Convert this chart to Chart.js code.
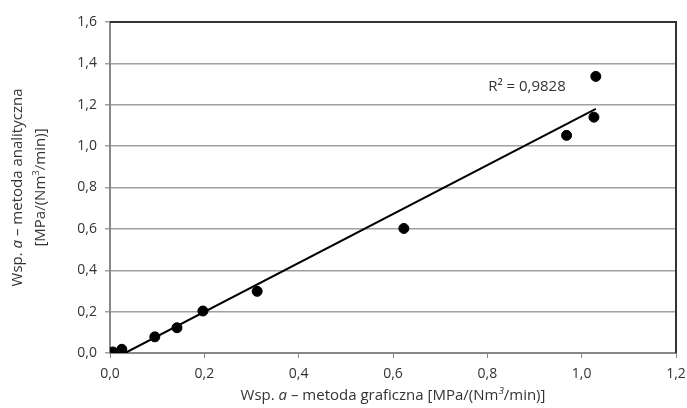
<!DOCTYPE html>
<html>
<head>
<meta charset="utf-8">
<script src="https://cdn.jsdelivr.net/npm/chart.js@4"></script>
<style>
  html, body { margin: 0; padding: 0; background: #fff; }
  #wrap { width: 687px; height: 408px; }
</style>
</head>
<body>
<div id="wrap"><canvas id="chart" width="687" height="408"></canvas></div>
<script>
// dane
var xGraficzna = [0.006, 0.025, 0.095, 0.142, 0.197, 0.312, 0.623, 0.968, 1.026, 1.030];
var yAnalityczna = [0.005, 0.018, 0.078, 0.122, 0.203, 0.298, 0.602, 1.052, 1.140, 1.337];
// linia trendu (końce)
var trendX = [0.032, 1.030];
var trendY = [0.0, 1.180];
var r2Text = "R² = 0,9828";
var r2Pos = [0.884, 1.288];
var xTicks = [0, 0.2, 0.4, 0.6, 0.8, 1.0, 1.2];
var yTicks = [0, 0.2, 0.4, 0.6, 0.8, 1.0, 1.2, 1.4, 1.6];

var FONT = "'Open Sans', 'Liberation Sans', sans-serif";
var TXT = "#333333";

var points = xGraficzna.map(function(x, i) { return { x: x, y: yAnalityczna[i] }; });
var trend = trendX.map(function(x, i) { return { x: x, y: trendY[i] }; });

function fmt(v) { return v.toFixed(1).replace(".", ","); }

// rysuje tekst złożony z kawałków (część kursywą)
function drawParts(ctx, parts, x, y, size) {
  var total = 0;
  parts.forEach(function(p) {
    ctx.font = (p.italic ? "italic " : "") + (p.sup ? size * 0.65 : size) + "px " + FONT;
    p.w = ctx.measureText(p.t).width;
    total += p.w;
  });
  var cx = x - total / 2;
  parts.forEach(function(p) {
    ctx.font = (p.italic ? "italic " : "") + (p.sup ? size * 0.65 : size) + "px " + FONT;
    ctx.fillText(p.t, cx, p.sup ? y - size * 0.35 : y);
    cx += p.w;
  });
}

var extras = {
  id: "extras",
  afterDraw: function(chart) {
    var ctx = chart.ctx, a = chart.chartArea;
    var xs = chart.scales.x, ys = chart.scales.y;
    ctx.save();
    // ramka: góra i prawa strona
    ctx.strokeStyle = "#333333";
    ctx.lineWidth = 2;
    ctx.beginPath();
    ctx.moveTo(a.left, a.top);
    ctx.lineTo(a.right, a.top);
    ctx.lineTo(a.right, a.bottom);
    ctx.stroke();
    ctx.fillStyle = TXT;
    ctx.textBaseline = "middle";
    ctx.textAlign = "center";
    ctx.font = "15px " + FONT;
    ctx.fillText(r2Text, xs.getPixelForValue(r2Pos[0]), ys.getPixelForValue(r2Pos[1]));
    // tytuł osi X
    ctx.textAlign = "left";
    drawParts(ctx, [
      { t: "Wsp. " }, { t: "a", italic: true }, { t: " – metoda graficzna [MPa/(Nm" },
      { t: "3", sup: true, italic: true }, { t: "/min)]" }
    ], 393, 396, 15);
    // tytuł osi Y
    var cy = (a.top + a.bottom) / 2;
    ctx.save();
    ctx.translate(18, cy);
    ctx.rotate(-Math.PI / 2);
    drawParts(ctx, [{ t: "Wsp. " }, { t: "a", italic: true }, { t: " – metoda analityczna" }], 0, 0, 15);
    ctx.restore();
    ctx.save();
    ctx.translate(41, cy);
    ctx.rotate(-Math.PI / 2);
    drawParts(ctx, [{ t: "[MPa/(Nm" }, { t: "3", sup: true }, { t: "/min)]" }], 0, 0, 15);
    ctx.restore();
    ctx.restore();
  }
};

new Chart(document.getElementById("chart").getContext("2d"), {
  type: "scatter",
  data: {
    datasets: [{
      data: points,
      backgroundColor: "#000",
      borderColor: "#000",
      pointRadius: 5,
      pointHoverRadius: 5
    }, {
      data: trend,
      showLine: true,
      borderColor: "#000",
      borderWidth: 2,
      pointRadius: 0,
      fill: false
    }]
  },
  plugins: [extras],
  options: {
    responsive: false,
    animation: false,
    layout: { padding: { top: 22, right: 11, left: 0, bottom: 0 } },
    plugins: { legend: { display: false }, tooltip: { enabled: false } },
    scales: {
      x: {
        type: "linear",
        min: 0, max: 1.2,
        afterBuildTicks: function(s) { s.ticks = xTicks.map(function(v) { return { value: v }; }); },
        afterFit: function(s) { s.height = 55; s.paddingLeft = 0; s.paddingRight = 0; },
        grid: { drawOnChartArea: false, drawTicks: true, tickLength: 5, color: "#888888" },
        border: { color: "#888888", width: 2 },
        ticks: {
          color: TXT,
          font: { family: FONT, size: 14 },
          padding: 8,
          maxRotation: 0,
          callback: function(v) { return fmt(v); }
        }
      },
      y: {
        type: "linear",
        min: 0, max: 1.6,
        afterBuildTicks: function(s) { s.ticks = yTicks.map(function(v) { return { value: v }; }); },
        afterFit: function(s) { s.width = 110; s.paddingTop = 0; s.paddingBottom = 0; },
        grid: { color: "#a0a0a0", lineWidth: 1.5, tickLength: 5 },
        border: { color: "#888888", width: 2 },
        ticks: {
          color: TXT,
          font: { family: FONT, size: 14 },
          padding: 8,
          callback: function(v) { return fmt(v); }
        }
      }
    }
  }
});
</script>
</body>
</html>
